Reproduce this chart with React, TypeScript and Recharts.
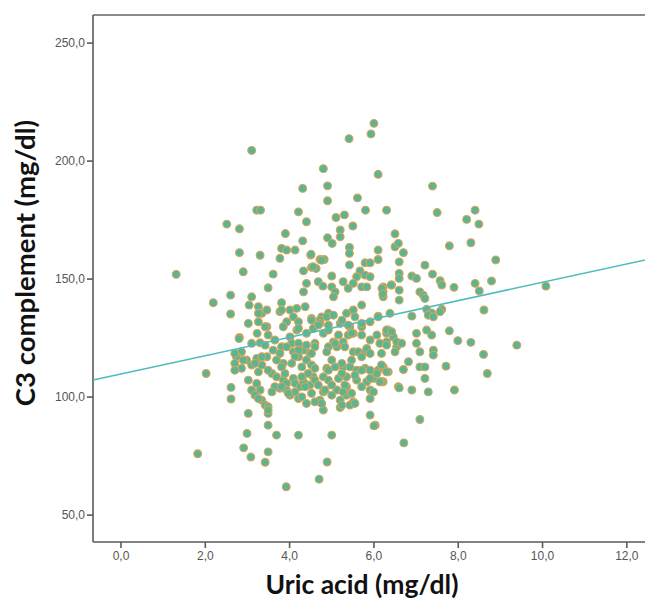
import React from 'react';
import { ScatterChart, Scatter, XAxis, YAxis, ReferenceLine } from 'recharts';

// Uric acid (mg/dl), C3 complement (mg/dl) pairs
const outliers: number[][] = [
  [1.31,152],[1.82,76],[2.19,140],[2.02,110],[3.10,204.5],[10.08,147],[9.39,122],[6.0,216],[5.93,211.5],
  [5.41,209.5],[4.80,196.8],[3.92,62],[4.70,65.2],[6.71,80.6],[4.89,72.5],[7.39,189.4],[6.10,194.4],
  [8.60,118.1],[8.69,110],[8.89,158.1],[8.61,136.9],
];
const upperGroup: number[][] = [
  [4.31,188.4],[4.90,189.5],[4.90,183.2],[5.61,184.4],[3.22,179.2],[3.31,179.2],[4.21,178.5],[5.80,179.2],
  [6.30,179.2],[2.51,173.3],[2.81,171.3],[4.40,174.3],[5.10,176.1],[5.30,177.2],[5.50,172.5],[5.20,170.8],
  [5.20,167.9],[3.90,169.3],[4.31,166.2],[4.90,167.5],[5.01,165.1],[2.81,161.2],[3.30,160.1],[3.81,163.0],
  [3.93,162.3],[4.13,162.3],[3.77,158.8],[4.50,160.2],[4.72,158.3],[4.82,158.3],[5.42,163.4],[5.42,160.9],
  [6.10,162.3],[6.10,158.3],[6.50,169.2],[6.50,163.7],[6.58,165.1],[6.70,161.2],[2.90,153.1],[3.61,152.1],
  [4.33,153.5],[4.52,155],[4.63,154.5],[5.0,151.3],[5.42,156],[5.79,156.9],[5.91,156.9],[5.67,153.5],
  [5.59,151],[5.79,151.7],[5.91,151],[7.50,178.2],[8.40,179.2],[8.20,175.3],[8.49,173.3],[7.79,164.1],
  [8.30,165.4],[6.60,157.3],[6.60,152.4],[7.21,155.9],[7.39,152.1],[6.90,151.3],[7.01,150.3],[4.56,155.2],
  [4.76,158],[4.51,160.5],
];
const middleGroup: number[][] = [
  [6.42,147.5],[6.22,146.7],[3.49,146.3],[4.40,148.2],[4.33,144.6],[4.68,148.9],[4.79,147],[5.0,146.7],
  [5.08,144.6],[5.04,142.5],[5.27,148.9],[5.51,148.2],[5.39,146.1],[5.71,146.7],[5.83,146.7],[6.22,144.6],
  [6.22,142.5],[2.60,143.2],[2.60,135.2],[3.10,142.5],[3.04,139],[3.26,138.3],[3.34,135.5],[3.81,140],
  [3.77,136.2],[4.01,136.9],[4.17,137.6],[4.37,138.3],[5.35,135.5],[5.51,136.9],[5.71,139],[6.38,135.5],
  [6.60,150.3],[6.60,145.3],[6.60,141.1],[7.57,149.3],[7.61,147.5],[7.90,146.5],[8.40,148.2],[8.50,145],
  [8.79,149.2],[6.41,147.5],[6.19,146.1],[6.21,143.6],[7.09,144.6],[7.17,143.2],[7.21,141.8],[7.25,137.2],
  [7.37,135.7],[7.61,137.2],[6.90,134.3],[6.10,134.3],[7.29,134.7],[7.41,134],[7.57,136.2],[3.46,136.9],
  [3.81,136.9],[4.92,135.5],[4.76,134],[5.55,134],[3.26,135.5],
];
const coreGroup: number[][] = [
  [3.02,131.2],[3.26,131.9],[3.46,129.8],[3.93,131.9],[4.09,134],[4.21,131.9],[4.52,133.3],[4.72,132.6],
  [4.88,134],[5.04,134.7],[5.91,131.9],[6.10,134],[5.2,131.2],[5.43,129.8],[6.34,128.4],[2.81,125.3],
  [3.23,127],[3.42,129.8],[3.49,126.3],[3.10,122.8],[3.30,123],[3.42,122],[4.01,125.5],[3.85,129.8],
  [4.17,128.4],[4.40,127],[4.56,129.1],[4.72,131.2],[4.80,127],[4.92,128.4],[5.04,123.4],[4.92,121.3],
  [5.12,121.3],[5.27,123.4],[5.39,126.3],[5.51,127],[5.71,129.8],[5.91,124.2],[6.07,126.3],[6.14,122.8],
  [6.30,127],[6.46,125.5],[6.54,121.3],[6.30,128.4],[6.42,127.7],[6.30,123.4],[6.30,122],[6.54,123.4],
  [6.66,122.8],[7.01,127],[7.01,122.8],[7.25,128.4],[7.37,126.3],[7.79,128.1],[7.99,123.9],[8.30,123.2],
  [4.21,129.1],[4.52,132.6],[4.68,130.5],[4.92,130.5],[5.24,132.6],[5.39,130.5],[5.71,131.2],[5.16,126.3],
  [5.47,127],[5.71,126.3],[2.80,124.8],[3.65,124.2],[3.81,121.3],[4.05,122.8],[4.37,121.3],[4.60,122.8],
  [5.08,122.8],[5.31,121.3],[3.93,121.3],
];
const lowerCore: number[][] = [
  [2.86,119.2],[2.74,117.1],[2.70,114.3],[2.86,112.2],[2.98,115.7],[3.10,113.6],[3.22,116.4],[3.34,113.6],
  [3.46,117.1],[3.61,119.9],[3.77,118.5],[3.69,115.7],[3.85,114.3],[4.09,119.2],[4.21,117.1],[4.33,119.9],
  [4.40,115.7],[4.48,118.5],[4.52,113.6],[4.60,121.3],[4.40,122],[4.21,122.8],[5.51,119.2],[5.63,119.2],
  [5.79,119.2],[4.88,112.2],[5.08,112.8],[5.27,112.8],[5.43,112.8],[5.59,111.4],[5.79,112.2],[5.91,111.4],
  [6.10,111.4],[6.22,112.8],[6.34,110.7],[4.80,108.6],[4.92,107.2],[5.16,107.9],[5.35,108.6],[5.59,107.2],
  [5.83,106.5],[5.99,107.9],[6.22,106.5],[3.58,110],[3.69,108.6],[3.85,107.2],[3.93,105.8],[4.09,107.9],
  [4.13,105.8],[4.25,104.4],[4.33,106.5],[4.48,105.1],[4.56,108.6],[4.21,119.9],[4.52,118.5],[4.13,117.1],
  [5.71,117.1],[5.47,115.7],[5.24,114.3],[5.0,115.7],[4.88,119.2],[2.70,118.5],[2.90,115.7],[2.70,111.4],
  [3.18,114.3],[3.34,117.1],[3.26,110.7],[3.49,111.4],[3.81,112.8],[3.89,110],[4.05,114.3],[4.29,112.8],
  [4.44,110],[4.60,112.2],[4.92,111.4],[5.24,110],[5.55,109.3],[5.71,111.4],[4.29,108.6],[4.60,107.2],
  [5.83,120.6],[5.91,118.5],[6.18,118.5],[6.50,119.2],[7.09,119.2],[7.41,119.9],[7.41,117.8],[6.82,115],
  [6.70,111.7],[7.09,112.8],[7.21,112.8],[7.21,107.9],[7.71,113.1],[6.18,113.6],[6.30,110.7],[6.07,110],
  [5.91,107.9],[6.18,106.5],
];
const lowGroup: number[][] = [
  [3.10,103],[3.30,103],[3.18,100.8],[3.34,98.7],[3.42,96.6],[3.49,95.9],[3.22,105.8],[2.61,104.1],
  [2.61,99.2],[3.02,93.1],[3.49,93.1],[3.49,88.1],[3.69,83.9],[4.21,83.9],[5.0,83.9],[2.99,84.6],
  [2.91,78.5],[3.08,74.6],[3.49,76.8],[3.42,72.4],[5.20,98.7],[5.12,103],[5.35,100.8],[5.51,98],
  [5.20,95.6],[4.80,102.2],[4.72,98.7],[4.80,94.5],[4.60,98],[4.40,97.3],[4.01,100.8],[4.13,102.2],
  [4.21,99.4],[3.93,103],[3.77,103.7],[3.65,104.4],[5.91,99.4],[5.91,92.4],[6.03,88.1],[5.71,104.4],
  [5.91,103],[6.14,106.5],[6.58,104.4],[5.0,105.1],[5.35,104.4],[5.43,96.6],[5.27,102.2],[3.02,107.2],
  [3.58,102.2],[3.81,104.4],[3.97,101.6],[4.29,100.1],[4.37,104.4],[4.52,101.6],[4.68,105.1],[4.84,103],
  [5.0,100.8],[5.31,105.1],[5.47,101.6],[5.55,97.3],[5.24,96.6],[4.76,97.3],[3.26,99.4],[3.49,94.5],
  [5.99,102.2],[6.60,103.9],[6.90,103],[7.29,102.2],[7.91,103],[6.00,87.8],[7.09,90.5],
];

// fit line end points
const fitX = [-0.66, 13.0];
const fitY = [107.2, 160.3];

const xTicks = [0, 2, 4, 6, 8, 10, 12];
const yTicks = [50, 100, 150, 200, 250];
const xDomain = [-0.664, 13.0];
const yDomain = [38.6, 261.9];

const allPoints = [...outliers, ...upperGroup, ...middleGroup, ...coreGroup, ...lowerCore, ...lowGroup]
  .map(([x, y]) => ({ x, y }));
const fitData = fitX.map((x, i) => ({ x, y: fitY[i] }));

const fmt = (v: number) => v.toFixed(1).replace('.', ',');

const Dot = (props: any) => {
  const { cx, cy } = props;
  if (cx == null || cy == null) return null;
  return <circle cx={cx} cy={cy} r={3.9} fill="#5bb592" stroke="#d8a558" strokeWidth={1.1} />;
};

const tickStyle = { fontSize: 12, fill: '#555555', fontFamily: '"Liberation Sans", Arial, sans-serif' };

export default function App() {
  return (
    <div style={{ position: 'fixed', left: 0, top: 0, width: 645, height: 601, overflow: 'hidden', background: '#fff' }}>
      <ScatterChart width={688} height={601} margin={{ top: 15, right: 19, bottom: 19, left: 0 }}>
        <XAxis
          type="number"
          dataKey="x"
          domain={xDomain}
          allowDataOverflow
          ticks={xTicks}
          tickFormatter={fmt}
          tick={tickStyle}
          tickSize={6}
          tickMargin={3}
          height={40}
          axisLine={{ stroke: '#5a5a5a', strokeWidth: 1.6 }}
          tickLine={{ stroke: '#5a5a5a', strokeWidth: 1.6 }}
        />
        <YAxis
          type="number"
          dataKey="y"
          domain={yDomain}
          allowDataOverflow
          ticks={yTicks}
          tickFormatter={fmt}
          tick={tickStyle}
          tickSize={6}
          tickMargin={2}
          width={93}
          axisLine={{ stroke: '#5a5a5a', strokeWidth: 1.6 }}
          tickLine={{ stroke: '#5a5a5a', strokeWidth: 1.6 }}
        />
        <ReferenceLine y={261.9} stroke="#8a8a8a" strokeWidth={2} ifOverflow="visible" />
        <Scatter data={allPoints} shape={Dot} isAnimationActive={false} />
        <Scatter
          data={fitData}
          line={{ stroke: '#4dbcc0', strokeWidth: 1.5 }}
          shape={() => null}
          isAnimationActive={false}
        />
      </ScatterChart>
      <svg width={645} height={601} style={{ position: 'absolute', left: 0, top: 0, pointerEvents: 'none' }}>
        <text x={362} y={594} textAnchor="middle" fontFamily="Lato, 'Open Sans', sans-serif" fontWeight={700} fontSize={26.5} fill="#111">
          Uric acid (mg/dl)
        </text>
        <text
          x={35}
          y={263}
          textAnchor="middle"
          transform="rotate(-90 35 263)"
          fontFamily="Lato, 'Open Sans', sans-serif"
          fontWeight={700}
          fontSize={27.5}
          fill="#111"
        >
          C3 complement (mg/dl)
        </text>
      </svg>
    </div>
  );
}
